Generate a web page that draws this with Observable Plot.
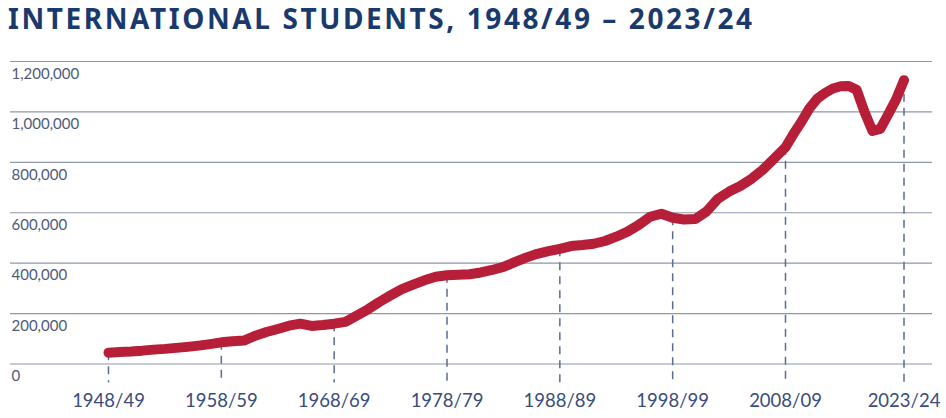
<!DOCTYPE html>
<html><head><meta charset="utf-8">
<script src="https://cdn.jsdelivr.net/npm/d3@7"></script>
<script src="https://cdn.jsdelivr.net/npm/@observablehq/plot@0.6"></script>
<style>
body{margin:0;background:#fff;}
#title{height:40px;margin:0;padding-left:8px;font-family:"Noto Sans",sans-serif;font-weight:700;font-size:28px;line-height:40px;color:#1a3a6c;white-space:nowrap;position:relative;top:-2px;}
#chart svg{display:block;}
</style></head><body>
<div id="title"><span id="t">INTERNATIONAL STUDENTS, 1948/49 – 2023/24</span></div>
<div id="chart"></div>
<script>
const years = [1948,1949,1950,1951,1952,1953,1954,1955,1956,1957,
  1958,1959,1960,1961,1962,1963,1964,1965,1966,1967,
  1968,1969,1970,1971,1972,1973,1974,1975,1976,1977,
  1978,1979,1980,1981,1982,1983,1984,1985,1986,1987,
  1988,1989,1990,1991,1992,1993,1994,1995,1996,1997,
  1998,1999,2000,2001,2002,2003,2004,2005,2006,2007,
  2008,2009,2010,2011,2012,2013,2014,2015,2016,2017,
  2018,2019,2020,2021,2022,2023];
const students = [45000,48000,50000,53000,57000,60000,64000,68000,73000,79000,
  86000,90000,93000,112000,127000,139000,152000,160000,151000,155000,
  160000,167000,192000,217000,246000,272000,297000,315000,332000,346000,
  352000,354000,356000,363000,373000,385000,404000,422000,437000,448000,
  457000,468000,472000,477000,488000,505000,525000,552000,584000,596000,
  580000,573000,575000,605000,655000,684000,706000,735000,771000,815000,
  860000,912000,960000,1013000,1052000,1075000,1093000,1102000,1103000,1088000,
  1000000,925000,933000,990000,1050000,1126000];
const tickYears = [1948,1958,1968,1978,1988,1998,2008,2023];
const tickLabels = ["1948/49","1958/59","1968/69","1978/79","1988/89","1998/99","2008/09","2023/24"];
const yTicks = [0,200000,400000,600000,800000,1000000,1200000];
const yTickLabels = ["0","200,000","400,000","600,000","800,000","1,000,000","1,200,000"];

const data = years.map((year, i) => ({year, value: students[i]}));
const valueAt = new Map(data.map(d => [d.year, d.value]));
const ticks = tickYears.map((year, i) => ({year, label: tickLabels[i], value: valueAt.get(year)}));

const chart = Plot.plot({
  width: 946, height: 378,
  marginLeft: 10, marginRight: 14, marginTop: 0, marginBottom: 0,
  x: {type: "linear", domain: [1948, 2008, 2023], range: [108, 785, 903.5], axis: null},
  y: {domain: [0, 1200000], range: [323.5, 21], axis: null},
  style: {fontFamily: "Lato, sans-serif", background: "transparent", overflow: "visible"},
  marks: [
    Plot.ruleY(yTicks, {stroke: "#8e96ab", strokeWidth: 1.2}),
    Plot.text(yTicks, {y: d => d, text: (d, i) => yTickLabels[i], frameAnchor: "left", textAnchor: "start", dx: 1, dy: 12.5, fill: "#4d5a78", fontSize: 15}),
    Plot.ruleX(ticks, {x: "year", y1: "value", y2: 0, insetBottom: -19, stroke: "#5c6b92", strokeWidth: 1.5, strokeDasharray: "8,6"}),
    Plot.text(ticks, {x: "year", y: 0, text: "label", dy: 37.5, fill: "#3a4c7c", fontSize: 18.5}),
    Plot.line(data, {x: "year", y: "value", stroke: "#b71e37", strokeWidth: 10, strokeLinecap: "round", strokeLinejoin: "round"})
  ]
});
document.getElementById("chart").appendChild(chart);

// fit title letter-spacing to the reference width
const t = document.getElementById("t");
const target = 744;
const w = t.getBoundingClientRect().width;
const n = t.textContent.length;
t.style.letterSpacing = ((target - w) / (n - 1)) + "px";
</script>
</body></html>
